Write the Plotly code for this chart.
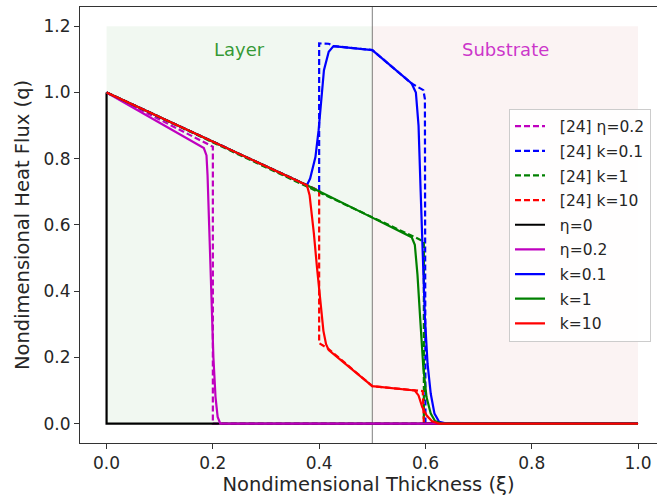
import plotly.graph_objects as go

# ---- data ----
# reference [24] dashed curves
ref_eta02_x = [0.0, 0.2, 0.2, 1.0]
ref_eta02_y = [1.0, 0.836, 0.0, 0.0]

ref_k01_x = [0.0, 0.4, 0.4, 0.418, 0.427, 0.5, 0.574, 0.596, 0.599, 0.6, 1.0]
ref_k01_y = [1.0, 0.703, 1.148, 1.147, 1.14, 1.128, 1.027, 1.007, 0.98, 0.0, 0.0]

ref_k1_x = [0.0, 0.59, 0.597, 0.597, 1.0]
ref_k1_y = [1.0, 0.557, 0.55, 0.0, 0.0]

ref_k10_x = [0.0, 0.4, 0.4, 0.418, 0.5, 0.58, 0.595, 0.597, 1.0]
ref_k10_y = [1.0, 0.703, 0.243, 0.225, 0.113, 0.10, 0.098, 0.0, 0.0]

# present solutions (solid)
eta0_x = [0.0, 0.0, 1.0]
eta0_y = [1.0, 0.0, 0.0]

eta02_x = [0.0, 0.183, 0.188, 0.19, 0.193, 0.197, 0.201, 0.205, 0.209, 0.214, 1.0]
eta02_y = [1.0, 0.832, 0.81, 0.75, 0.6, 0.4, 0.2, 0.08, 0.02, 0.0, 0.0]

k01_x = [0.0, 0.377, 0.383, 0.393, 0.399, 0.404, 0.409, 0.418, 0.427, 0.5, 0.574,
         0.582, 0.587, 0.591, 0.595, 0.599, 0.604, 0.61, 0.617, 0.626, 0.64, 1.0]
k01_y = [1.0, 0.72, 0.74, 0.805, 0.886, 0.987, 1.067, 1.123, 1.14, 1.128, 1.027,
         1.0, 0.9, 0.7, 0.5, 0.32, 0.18, 0.09, 0.03, 0.005, 0.0, 0.0]

k1_x = [0.0, 0.377, 0.5, 0.574, 0.58, 0.585, 0.59, 0.596, 0.602, 0.61, 0.618, 0.63, 1.0]
k1_y = [1.0, 0.72, 0.622, 0.563, 0.54, 0.45, 0.32, 0.17, 0.08, 0.03, 0.008, 0.0, 0.0]

k10_x = [0.0, 0.377, 0.382, 0.387, 0.39, 0.396, 0.402, 0.408, 0.413, 0.418, 0.5, 0.58,
         0.587, 0.594, 0.602, 0.612, 0.625, 1.0]
k10_y = [1.0, 0.72, 0.69, 0.62, 0.575, 0.47, 0.372, 0.28, 0.24, 0.222, 0.113, 0.10,
         0.085, 0.05, 0.025, 0.008, 0.0, 0.0]

x_ticks = [0.0, 0.2, 0.4, 0.6, 0.8, 1.0]
y_ticks = [0.0, 0.2, 0.4, 0.6, 0.8, 1.0, 1.2]

FONT = "DejaVu Sans"
DASH = "6px,3px"

series = [
    ("[24] η=0.2", ref_eta02_x, ref_eta02_y, "#bf00bf", DASH),
    ("[24] k=0.1", ref_k01_x, ref_k01_y, "#0000ff", DASH),
    ("[24] k=1", ref_k1_x, ref_k1_y, "#008000", DASH),
    ("[24] k=10", ref_k10_x, ref_k10_y, "#ff0000", DASH),
    ("η=0", eta0_x, eta0_y, "#000000", "solid"),
    ("η=0.2", eta02_x, eta02_y, "#bf00bf", "solid"),
    ("k=0.1", k01_x, k01_y, "#0000ff", "solid"),
    ("k=1", k1_x, k1_y, "#008000", "solid"),
    ("k=10", k10_x, k10_y, "#ff0000", "solid"),
]

fig = go.Figure()
for i, (name, xs, ys, col, dash) in enumerate(series):
    fig.add_trace(go.Scatter(
        x=xs, y=ys, mode="lines", name="&nbsp;&nbsp;" + name, legendgroup=f"g{i}",
        line=dict(color=col, width=2.2, dash=dash),
    ))

# shaded regions
fig.add_shape(type="rect", x0=0, x1=0.5, y0=0, y1=1.2, xref="x", yref="y",
              fillcolor="rgba(0,128,0,0.055)", line=dict(width=0), layer="below")
fig.add_shape(type="rect", x0=0.5, x1=1.0, y0=0, y1=1.2, xref="x", yref="y",
              fillcolor="rgba(205,92,92,0.07)", line=dict(width=0), layer="below")
fig.add_shape(type="line", x0=0.5, x1=0.5, y0=0, y1=1, xref="x", yref="paper",
              line=dict(color="rgba(0,0,0,0.5)", width=1), layer="below")

fig.add_annotation(x=0.25, y=1.13, xref="x", yref="y", text="Layer", showarrow=False,
                   font=dict(family=FONT, size=18, color="rgba(0,128,0,0.8)"))
fig.add_annotation(x=0.75, y=1.13, xref="x", yref="y", text="Substrate", showarrow=False,
                   font=dict(family=FONT, size=18, color="rgba(191,0,191,0.8)"))

axis_common = dict(
    showgrid=False, zeroline=False, showline=True, linecolor="#333", linewidth=1,
    ticks="outside", ticklen=5, tickwidth=1, tickcolor="#333",
    tickfont=dict(family=FONT, size=17, color="#262626"), tickformat=".1f",
)

fig.update_layout(
    width=657, height=501,
    margin=dict(l=80, r=0, t=7, b=58),
    paper_bgcolor="white", plot_bgcolor="white",
    font=dict(family=FONT, color="#262626"),
    xaxis=dict(range=[-0.05, 1.0357], tickvals=x_ticks, mirror=True,
               title=dict(text="Nondimensional Thickness (ξ)",
                          font=dict(family=FONT, size=19.5, color="#262626"), standoff=2),
               **axis_common),
    yaxis=dict(range=[-0.0586, 1.258], tickvals=y_ticks, mirror=False,
               title=dict(text="Nondimensional Heat Flux (q)",
                          font=dict(family=FONT, size=19.5, color="#262626"), standoff=8),
               **axis_common),
    legend=dict(x=0.7435, y=0.767, xanchor="left", yanchor="top",
                bgcolor="rgba(255,255,255,0.85)", bordercolor="#cccccc", borderwidth=1,
                font=dict(family=FONT, size=15.5, color="#262626"),
                tracegroupgap=1.5, itemwidth=30, traceorder="grouped"),
    showlegend=True,
)

fig.write_html("out.html")
